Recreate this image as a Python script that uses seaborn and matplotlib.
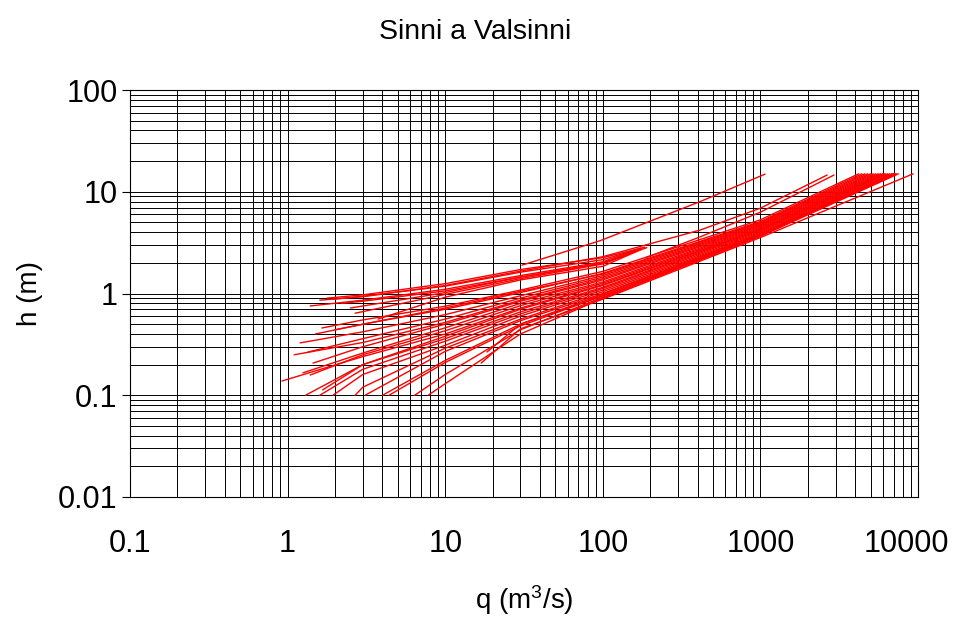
import matplotlib
matplotlib.use("Agg")
import matplotlib.pyplot as plt
import matplotlib.transforms as mtransforms
import pandas as pd
import seaborn as sns
from matplotlib.ticker import FixedLocator, FixedFormatter, LogLocator, NullFormatter

# ---------------- data (discharge q in m3/s, stage h in m) ----------------
# upper family of rating curves (end near q ~ 170)
upper_q = [
    [1.39, 3, 10, 30, 100, 175],
    [1.78, 3, 10, 30, 100, 185],
    [1.95, 3, 10, 30, 100, 170],
    [2.68, 10, 30, 100, 175],
    [3.75, 10, 30, 100, 165],
    [2.2, 3, 10, 30, 100, 190],
    [2.5, 10, 30, 100, 160],
]
upper_h = [
    [0.754, 0.86, 1.10, 1.50, 2.05, 2.80],
    [0.90, 0.97, 1.25, 1.72, 2.25, 2.85],
    [0.88, 0.94, 1.18, 1.62, 2.15, 2.75],
    [0.64, 0.98, 1.40, 1.95, 2.70],
    [0.56, 0.92, 1.36, 1.85, 2.60],
    [0.80, 0.84, 1.06, 1.45, 2.00, 2.82],
    [0.72, 1.02, 1.45, 1.98, 2.62],
]

# isolated / intermediate curves
single_q = [
    [30.7, 96, 414, 1070],
    [1.6, 3, 10, 30, 100, 414, 1000, 2650],
    [185, 414, 1000, 2930],
]
single_h = [
    [1.9, 3.3, 8.0, 14.9],
    [0.86, 0.93, 1.2, 1.66, 2.3, 4.2, 6.9, 14.6],
    [2.23, 3.6, 6.3, 14.6],
]

# main bundle of rating curves (end at h = 15)
main_q = [
    [1.65, 3, 10, 30, 100, 1000, 4200],
    [1.5, 3, 10, 30, 100, 1000, 4400],
    [2.0, 10, 30, 100, 1000, 4600],
    [1.2, 3, 10, 30, 100, 1000, 4800],
    [1.35, 3, 10, 30, 100, 1000, 5000],
    [1.1, 3, 10, 30, 100, 1000, 5200],
    [1.45, 3, 10, 30, 100, 1000, 5400],
    [1.25, 3, 10, 30, 100, 1000, 5600],
    [1.39, 3, 10, 30, 100, 1000, 5800],
    [0.92, 3, 10, 30, 100, 1000, 6000],
    [1.67, 3, 10, 30, 100, 1000, 6100],
    [1.3, 3, 10, 30, 100, 1000, 6200],
    [1.6, 3, 10, 30, 100, 1000, 6400],
    [1.94, 3, 10, 30, 100, 1000, 6600],
    [2.68, 3, 10, 30, 100, 1000, 6800],
    [3.1, 10, 30, 100, 1000, 6900],
    [4.0, 10, 30, 100, 1000, 7000],
    [4.4, 10, 30, 100, 1000, 7200],
    [6.4, 10, 30, 100, 1000, 7300],
    [7.8, 10, 30, 100, 1000, 7500],
    [16.9, 30, 100, 1000, 9300],
    [18.4, 30, 100, 1000, 7100],
]
main_h = [
    [0.458, 0.55, 0.75, 1.08, 1.65, 5.30, 15],
    [0.40, 0.50, 0.70, 1.02, 1.58, 5.10, 15],
    [0.44, 0.72, 1.05, 1.55, 5.00, 15],
    [0.327, 0.42, 0.62, 0.95, 1.50, 4.90, 15],
    [0.266, 0.36, 0.56, 0.90, 1.45, 4.80, 15],
    [0.25, 0.33, 0.52, 0.86, 1.40, 4.70, 15],
    [0.207, 0.30, 0.50, 0.84, 1.36, 4.60, 15],
    [0.166, 0.26, 0.46, 0.80, 1.30, 4.50, 15],
    [0.158, 0.25, 0.43, 0.76, 1.26, 4.40, 15],
    [0.138, 0.24, 0.40, 0.72, 1.22, 4.30, 15],
    [0.113, 0.20, 0.38, 0.70, 1.20, 4.25, 15],
    [0.10, 0.20, 0.36, 0.66, 1.15, 4.20, 15],
    [0.10, 0.18, 0.34, 0.63, 1.12, 4.10, 15],
    [0.10, 0.16, 0.31, 0.60, 1.08, 4.00, 15],
    [0.10, 0.12, 0.29, 0.56, 1.04, 3.90, 15],
    [0.10, 0.27, 0.54, 1.00, 3.85, 15],
    [0.10, 0.22, 0.50, 0.98, 3.80, 15],
    [0.10, 0.21, 0.48, 0.95, 3.75, 15],
    [0.10, 0.16, 0.44, 0.92, 3.70, 15],
    [0.10, 0.13, 0.40, 0.90, 3.65, 15],
    [0.207, 0.45, 0.88, 3.55, 15],
    [0.266, 0.50, 0.95, 3.75, 15],
]

x_ticks = [0.1, 1, 10, 100, 1000, 10000]
x_labels = ["0.1", "1", "10", "100", "1000", "10000"]
y_ticks = [0.01, 0.1, 1, 10, 100]
y_labels = ["0.01", "0.1", "1", "10", "100"]

# ---------------- build long table ----------------
rows = []
cid = 0
for qs, hs in [(upper_q, upper_h), (single_q, single_h), (main_q, main_h)]:
    for ql, hl in zip(qs, hs):
        for i, (q, h) in enumerate(zip(ql, hl)):
            rows.append({"curve": cid, "order": i, "q": q, "h": h})
        cid += 1
df = pd.DataFrame(rows)

# ---------------- style ----------------
sns.set_theme(style="white")
plt.rcParams["font.family"] = ["Liberation Sans", "DejaVu Sans"]
plt.rcParams["mathtext.fontset"] = "custom"
plt.rcParams["mathtext.rm"] = "Liberation Sans"
plt.rcParams["mathtext.it"] = "Liberation Sans:italic"
plt.rcParams["text.color"] = "black"
plt.rcParams["axes.labelcolor"] = "black"
plt.rcParams["xtick.color"] = "black"
plt.rcParams["ytick.color"] = "black"

fig = plt.figure(figsize=(9.61, 6.18), dpi=100)
ax = fig.add_axes([130 / 961, 1 - 497 / 618, 788 / 961, 407 / 618])

sns.lineplot(data=df, x="q", y="h", units="curve", estimator=None, sort=False,
             color="#ff0000", linewidth=1.0, ax=ax, legend=False)

ax.set_xscale("log")
ax.set_yscale("log")
ax.set_xlim(0.1, 10000)
ax.set_ylim(0.01, 100)

ax.xaxis.set_major_locator(FixedLocator(x_ticks))
ax.xaxis.set_major_formatter(FixedFormatter(x_labels))
ax.yaxis.set_major_locator(FixedLocator(y_ticks))
ax.yaxis.set_major_formatter(FixedFormatter(y_labels))
ax.xaxis.set_minor_locator(LogLocator(base=10, subs=range(2, 10), numticks=20))
ax.yaxis.set_minor_locator(LogLocator(base=10, subs=range(2, 10), numticks=20))
ax.xaxis.set_minor_formatter(NullFormatter())
ax.yaxis.set_minor_formatter(NullFormatter())

ax.set_axisbelow(True)
ax.grid(True, which="both", color="black", linewidth=0.7)

ax.tick_params(axis="y", which="major", direction="out", length=6, width=0.8,
               color="black", labelcolor="black", labelsize=22, pad=3, left=True)
ax.tick_params(axis="y", which="minor", length=0)
ax.tick_params(axis="x", which="both", length=0, labelsize=22, pad=23,
               labelcolor="black")

for s in ax.spines.values():
    s.set_color("black")
    s.set_linewidth(0.8)

ax.set_title("Sinni a Valsinni", fontsize=20.5, pad=37, x=(475 - 130) / 788,
             color="black")
ax.set_xlabel("q (m$^3$/s)", fontsize=20, color="black")
ax.set_ylabel("h (m)", fontsize=20, color="black")
ax.xaxis.label.set_verticalalignment("center")
ax.yaxis.label.set_verticalalignment("center")
ax.xaxis.set_label_coords((524 - 130) / 788, -0.253)
ax.yaxis.set_label_coords(-0.127, 0.5)

# last x label is kept inside the figure, shifted slightly left
last = ax.get_xticklabels()[-1]
last.set_transform(last.get_transform() +
                   mtransforms.ScaledTranslation(-12 / 100, 0, fig.dpi_scale_trans))

fig.savefig("out.png", dpi=100)
